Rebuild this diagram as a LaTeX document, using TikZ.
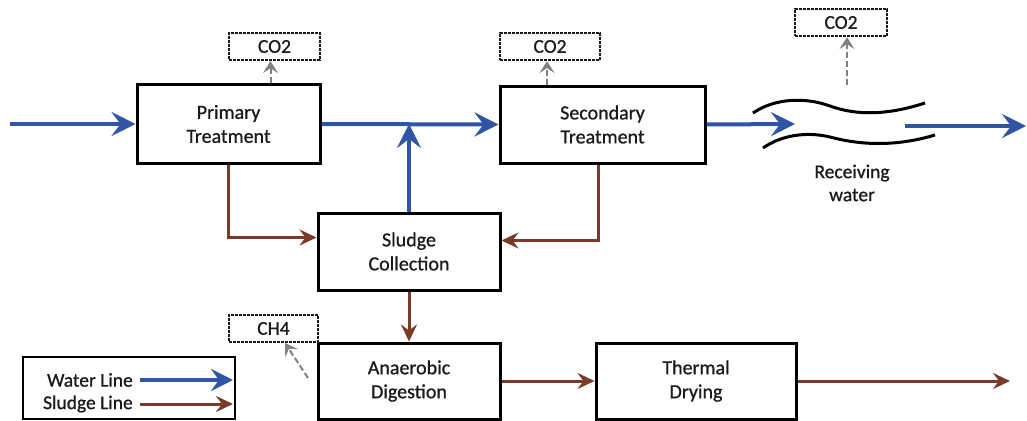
\documentclass[tikz,border=0pt]{standalone}
\usepackage{fontspec}
\setmainfont{Carlito}
\newfontfamily\dfont{Carlito}[FakeBold=0.8]
\usetikzlibrary{arrows.meta,calc}
\definecolor{wblue}{HTML}{2F55A4}
\definecolor{sbrown}{HTML}{7A3A2B}
\definecolor{gasgrey}{HTML}{808080}
\definecolor{txt}{HTML}{1A1A1A}
\begin{document}
\begin{tikzpicture}[x=1pt,y=-1pt,
 box/.style={draw=black,line width=3pt,fill=white,align=center,inner sep=0pt,text=txt,font=\dfont\fontsize{20}{24}\selectfont},
 gasbox/.style={draw=black!90,line width=2.2pt,dash pattern=on 3pt off 1pt,align=center,inner sep=0pt,text=txt,font=\dfont\fontsize{19.5}{22}\selectfont},
 water/.style={wblue,line width=4pt,-{Stealth[length=24pt,width=24pt,inset=9pt]}},
 sludge/.style={sbrown,line width=3pt,-{Stealth[length=17pt,width=16pt,inset=6pt]}},
 gasarrow/.style={gasgrey,line width=2pt,dash pattern=on 6pt off 3pt,-{Stealth[length=12pt,width=15pt,inset=5pt]}},
 wave/.style={black,line width=3pt},
 lbl/.style={text=txt,font=\dfont\fontsize{19.5}{23}\selectfont,align=center,inner sep=0pt},
 legendbox/.style={draw=black,line width=2pt,inner sep=0pt}
]
\fill[white] (0,0) rectangle (1027,420);
\useasboundingbox (0,0) rectangle (1027,420);

% process boxes
\node[box,minimum width=183pt,minimum height=79pt] (P) at (228.5,124) {Primary\\Treatment};
\node[box,minimum width=205pt,minimum height=77pt] (S) at (602.5,124.5) {Secondary\\Treatment};
\node[box,minimum width=182pt,minimum height=77pt] (SC) at (409,251.5) {Sludge\\Collection};
\node[box,minimum width=182pt,minimum height=76pt] (AD) at (409,381) {Anaerobic\\Digestion};
\node[box,minimum width=200pt,minimum height=76pt] (TD) at (696,381) {Thermal\\Drying};

% gas boxes
\node[gasbox,minimum width=91pt,minimum height=27pt] (G1) at (274.5,46.5) {CO2};
\node[gasbox,minimum width=100pt,minimum height=27pt] (G2) at (550,46.5) {CO2};
\node[gasbox,minimum width=92pt,minimum height=27pt] (G3) at (841,22.5) {CO2};
\node[gasbox,minimum width=89pt,minimum height=27pt] (G4) at (273.5,328.5) {CH4};

% receiving water
\draw[wave] (753,113) .. controls (775,98) and (805,97) .. (830,106)
            .. controls (855,115) and (885,116) .. (925,103);
\draw[wave] (763,148) .. controls (780,136) and (805,131) .. (830,137)
            .. controls (860,145) and (895,147) .. (935,135);
\node[lbl] (RW) at (852,183) {Receiving\\water};

% coordinates
\coordinate (in) at (10,124);
\coordinate (rwin) at (795,124);
\coordinate (rwout) at (905,126);
\coordinate (out1) at (1026,126);
\coordinate (out2) at (1010,381);
\coordinate (g3src) at (847,85);
\coordinate (g4src) at (308,378);

% water line
\draw[water] (in) -- (P.west);
\draw[water] (P.east) -- (S.west);
\draw[water] (SC.north) -- (SC.north |- P.east);
\draw[water] (S.east) -- (rwin);
\draw[water] (rwout) -- (out1);

% sludge line
\draw[sludge] (P.south) |- ([yshift=14pt]SC.west);
\draw[sludge] ([xshift=-4pt]S.south) |- ([yshift=11pt]SC.east);
\draw[sludge] (SC.south) -- (AD.north);
\draw[sludge] (AD.east) -- (TD.west);
\draw[sludge] (TD.east) -- (out2);

% gas arrows
\draw[gasarrow] ([xshift=-4pt]G1.south |- P.north) -- ([xshift=-4pt]G1.south);
\draw[gasarrow] ([xshift=-3pt]G2.south |- S.north) -- ([xshift=-3pt]G2.south);
\draw[gasarrow] (g3src) -- (g3src |- G3.south);
\draw[gasarrow] (g4src) -- ([xshift=11.5pt]G4.south);

% legend
\node[legendbox,minimum width=212pt,minimum height=62pt] (L) at (129,388) {};
\node[lbl,anchor=east] (LW) at (133,380) {Water Line};
\node[lbl,anchor=east] (LS) at (133,404) {Sludge Line};
\coordinate (LWe) at (233,380);
\coordinate (LSe) at (233,404);
\draw[water,line width=3.5pt,-{Stealth[length=22pt,width=22pt,inset=8pt]}] (LW.east) ++(7pt,0) -- (LWe);
\draw[sludge] (LS.east) ++(7pt,0) -- (LSe);
\end{tikzpicture}
\end{document}
